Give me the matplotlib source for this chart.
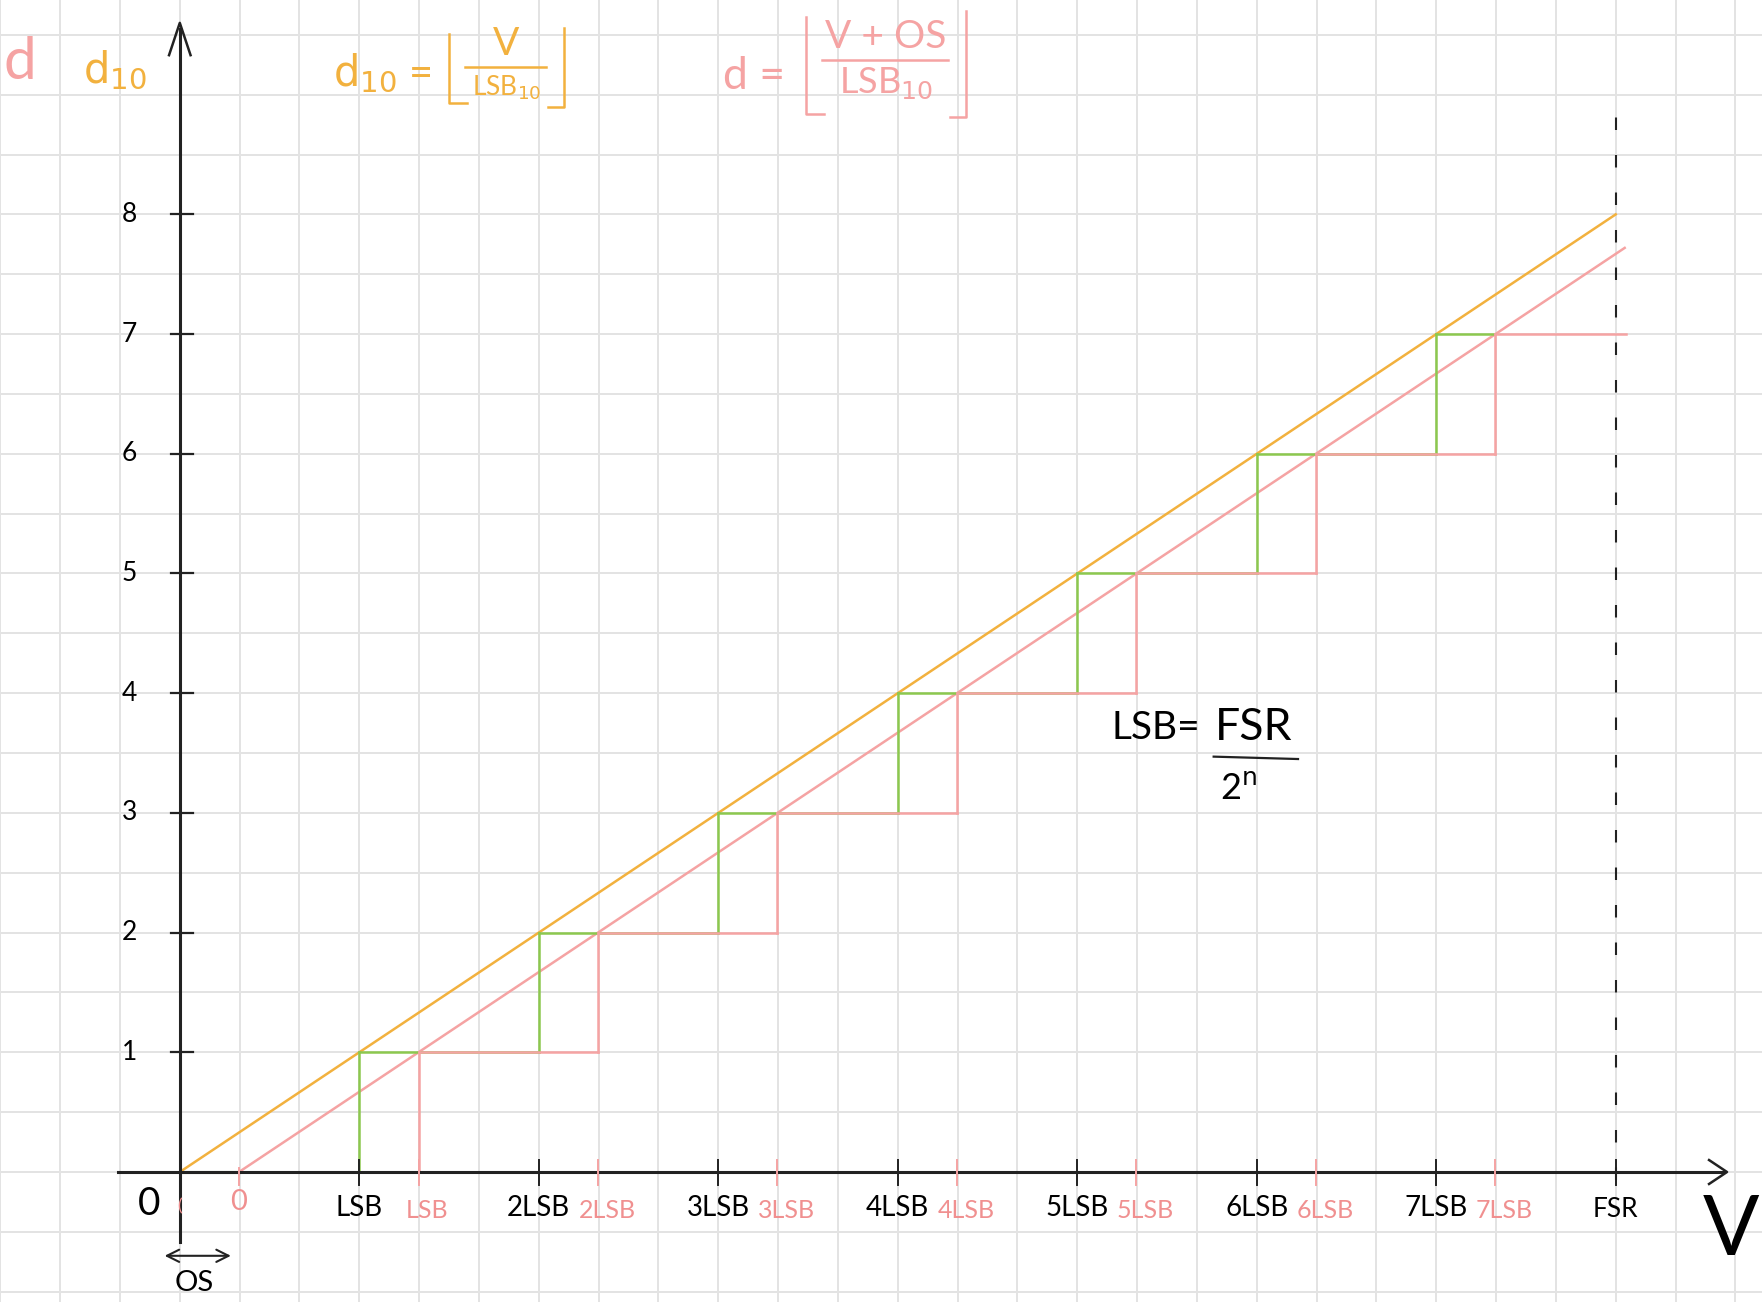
import numpy as np
import matplotlib
matplotlib.use("Agg")
import matplotlib.pyplot as plt

# values (x in LSB, y in output code)
codes = [0, 1, 2, 3, 4, 5, 6, 7]
os_lsb = 0.33          # offset, in LSB
fsr_lsb = 8            # full scale range, in LSB
line_end = 8.05        # where the pink lines stop on the right
y_labels = ["1", "2", "3", "4", "5", "6", "7", "8"]
x_labels = ["LSB", "2LSB", "3LSB", "4LSB", "5LSB", "6LSB", "7LSB"]
x_labels_os = ["LSB", "2LSB", "3LSB", "4LSB", "5LSB", "6LSB", "7LSB"]

ORANGE = "#f2b13e"
PINK = "#f5a3a3"
PINKTXT = "#f09090"
GREEN = "#8cc84e"
DKGREEN = "#2b6418"
GRID = "#e3e3e3"
INK = "#222222"

plt.rcParams["font.family"] = ["Lato", "DejaVu Sans"]
plt.rcParams["mathtext.fontset"] = "dejavusans"

fig = plt.figure(figsize=(17.62, 13.02), dpi=100)
ax = fig.add_axes([0, 0, 1, 1])
ax.set_xlim(-1.0017, 8.815)
ax.set_ylim(-1.086, 9.791)
ax.axis("off")

# graph paper
for gx in np.arange(-3, 27) / 3:
    ax.axvline(gx, color=GRID, lw=1.4, zorder=0)
for gy in np.arange(-2, 20) / 2:
    ax.axhline(gy, color=GRID, lw=1.4, zorder=0)

# axes with hand-drawn arrowheads
ax.plot([-0.345, 8.6], [0, 0], color=INK, lw=2.2, zorder=5)
ax.plot([8.52, 8.62, 8.52], [0.1, 0, -0.1], color=INK, lw=1.8, zorder=5)
ax.plot([0, 0], [-0.585, 9.55], color=INK, lw=2.2, zorder=5)
ax.plot([-0.06, 0, 0.06], [9.33, 9.6, 9.33], color=INK, lw=1.8, zorder=5)

# y ticks and labels
for k, lab in zip(codes[1:] + [8], y_labels):
    ax.plot([-0.05, 0.075], [k, k], color=INK, lw=1.6, zorder=5)
    ax.text(-0.28, k, lab, fontsize=19, ha="center", va="center", zorder=6)

# x ticks: ideal (black) and offset (pink)
for k, lab in zip(codes[1:], x_labels):
    ax.plot([k, k], [-0.11, 0.1], color=INK, lw=1.4, zorder=5)
    ax.text(k, -0.3, lab, fontsize=20, ha="center", va="center", zorder=6)
for k, lab in zip(codes[1:], x_labels_os):
    ax.plot([k + os_lsb] * 2, [-0.11, 0.1], color=PINK, lw=1.4, zorder=5)
    ax.text(k + os_lsb + 0.05, -0.32, lab, fontsize=18, color=PINKTXT,
            ha="center", va="center", zorder=6)
ax.plot([fsr_lsb, fsr_lsb], [-0.11, 0.1], color=INK, lw=1.4, zorder=5)
ax.text(fsr_lsb, -0.31, "FSR", fontsize=19, ha="center", va="center", zorder=6)
ax.plot([os_lsb, os_lsb], [-0.11, 0.03], color=PINK, lw=1.4, zorder=5)

ax.text(-0.17, -0.27, "0", fontsize=28, ha="center", va="center", zorder=6)
ax.text(os_lsb, -0.25, "0", fontsize=21, color=PINKTXT, ha="center", va="center", zorder=6)
ax.text(0.0, -0.29, "(", fontsize=13, color=PINKTXT, ha="center", va="center", zorder=6)

# OS bracket under the origin
ax.annotate("", xy=(-0.1, -0.7), xytext=(0.3, -0.7),
            arrowprops=dict(arrowstyle="<->", color=INK, lw=1.5, mutation_scale=22))
ax.text(0.08, -0.93, "OS", fontsize=21, ha="center", va="center")

# FSR dashed line
ax.plot([fsr_lsb, fsr_lsb], [-0.07, 8.95], color=INK, lw=1.5,
        dashes=(6, 12), zorder=4)

# ideal transfer line and offset line
ax.plot([0, fsr_lsb], [0, codes[-1] + 1], color=ORANGE, lw=1.8, zorder=3)
ax.plot([os_lsb, line_end], [0, line_end - os_lsb], color=PINK, lw=1.8, zorder=3)

# staircases
for k in codes:
    # ideal (green)
    g_end = k + 1 if k < codes[-1] else k + os_lsb
    ax.plot([k, g_end], [k, k], color=GREEN, lw=1.8, zorder=3 if k else 4.5)
    if k < codes[-1]:
        ax.plot([k + 1, k + 1], [k, k + 1], color=GREEN, lw=1.8, zorder=3)
    # with offset (pink)
    p_start = k + os_lsb if k else 1
    p_end = k + 1 + os_lsb if k < codes[-1] else line_end + 0.01
    ax.plot([p_start, p_end], [k, k], color=PINK, lw=1.8, zorder=4)
    if k < codes[-1]:
        ax.plot([k + 1 + os_lsb] * 2, [k, k + 1], color=PINK, lw=1.8, zorder=4)
ax.plot([0, os_lsb], [0, 0], color=DKGREEN, lw=2.2, zorder=4.6)

# titles
ax.text(-0.89, 9.27, "d", fontsize=42, color=PINK, ha="center", va="center")
ax.text(-0.36, 9.2, r"$\mathrm{d_{10}}$", fontsize=30, color=ORANGE, ha="center", va="center")


def floor_frac(num, den, x0, x1, y_top, y_bot, line_y, color, num_size, den_size):
    # hand-drawn style floor brackets around a fraction
    ax.plot([x0, x0, x0 + 0.1], [y_top, y_bot, y_bot], color=color, lw=1.8)
    ax.plot([x1 - 0.09, x1, x1], [y_bot - 0.03, y_bot - 0.03, y_top + 0.05],
            color=color, lw=1.8)
    ax.plot([x0 + 0.09, x1 - 0.1], [line_y, line_y], color=color, lw=1.8)
    xc = (x0 + x1) / 2
    ax.text(xc, line_y + 0.04, num, fontsize=num_size, color=color, ha="center", va="bottom")
    ax.text(xc, line_y - 0.05, den, fontsize=den_size, color=color, ha="center", va="top")


ax.text(1.13, 9.18, r"$\mathrm{d_{10}}$ =", fontsize=30, color=ORANGE,
        ha="center", va="center")
floor_frac("V", r"LSB$_{10}$", 1.50, 2.14, 9.51, 8.93, 9.23, ORANGE, 28, 19)

ax.text(3.2, 9.15, "d =", fontsize=32, color=PINK, ha="center", va="center")
floor_frac("V + OS", r"LSB$_{10}$", 3.49, 4.38, 9.65, 8.84, 9.29, PINK, 28, 26)

# LSB definition
ax.text(5.44, 3.71, "LSB=", fontsize=28, ha="center", va="center")
ax.text(5.98, 3.71, "FSR", fontsize=32, ha="center", va="center")
ax.plot([5.76, 6.23], [3.47, 3.45], color=INK, lw=1.6)
ax.text(5.9, 3.2, r"2$^\mathrm{n}$", fontsize=26, ha="center", va="center")

ax.text(8.64, -0.5, "V", fontsize=60, ha="center", va="center")

fig.savefig("out.png", dpi=100)
